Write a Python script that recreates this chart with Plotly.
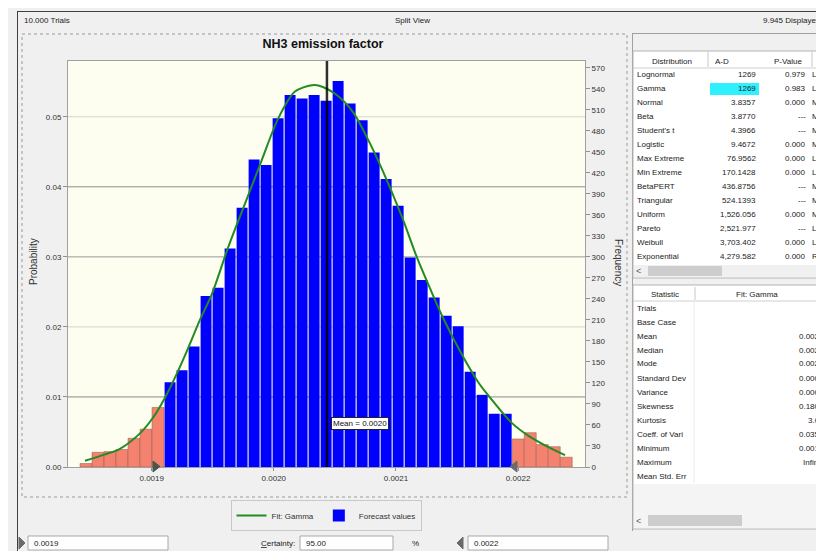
import plotly.graph_objects as go

# ---------------- data ----------------
bin_centers = [0.00184622, 0.00185605, 0.00186588, 0.00187571, 0.00188554, 0.00189537,
               0.00190520, 0.00191503, 0.00192486, 0.00193469, 0.00194452, 0.00195435,
               0.00196418, 0.00197401, 0.00198384, 0.00199367, 0.00200350, 0.00201333,
               0.00202316, 0.00203299, 0.00204282, 0.00205265, 0.00206248, 0.00207231,
               0.00208214, 0.00209197, 0.00210180, 0.00211163, 0.00212146, 0.00213129,
               0.00214112, 0.00215095, 0.00216078, 0.00217061, 0.00218044, 0.00219027,
               0.00220010, 0.00220993, 0.00221976, 0.00222959, 0.00223942]
bin_width = 0.00000983
counts = [5, 21, 22, 25, 41, 54, 85,
          121, 138, 172, 244, 256, 312, 370, 439, 431, 498,
          531, 526, 531, 523, 551, 519, 495, 449, 411, 373,
          299, 267, 242, 216, 201, 136, 103, 76, 76,
          40, 49, 32, 29, 14]

fit_x = [0.0018454, 0.0018618, 0.0018740, 0.0018904, 0.0019013, 0.0019109, 0.0019205,
         0.0019287, 0.0019395, 0.0019491, 0.0019625, 0.0019764, 0.0019901, 0.0020037,
         0.0020173, 0.0020310, 0.0020378, 0.0020515, 0.0020651, 0.0020787, 0.0020924,
         0.0021060, 0.0021170, 0.0021279, 0.0021388, 0.0021551, 0.0021674, 0.0021743,
         0.0021948, 0.0022098, 0.0022220, 0.0022384]
fit_freq = [9, 18, 26, 48, 71, 99, 133, 165, 210, 246, 313, 376, 438, 498, 536, 545,
            544, 531, 506, 462, 410, 352, 300, 255, 212, 157, 121, 105, 63, 43, 31, 17]

mean_value = 0.0020435
cert_low = 0.0019068
cert_high = 0.0021934
trials = 10000
x_ticks = [0.0019, 0.0020, 0.0021, 0.0022]
freq_ticks = list(range(0, 571, 30))
prob_ticks = [0.00, 0.01, 0.02, 0.03, 0.04, 0.05]

dist_names = ["Lognormal", "Gamma", "Normal", "Beta", "Student's t", "Logistic", "Max Extreme",
              "Min Extreme", "BetaPERT", "Triangular", "Uniform", "Pareto", "Weibull", "Exponential"]
ad_values = ["1269", "1269", "3.8357", "3.8770", "4.3966", "9.4672", "76.9562", "170.1428",
             "436.8756", "524.1393", "1,526.056", "2,521.977", "3,703.402", "4,279.582"]
p_values = ["0.979", "0.983", "0.000", "---", "---", "0.000", "0.000", "0.000",
            "---", "---", "0.000", "---", "0.000", "0.000"]
param_shown = ["Lo", "Lo", "Me", "Mi", "Mi", "Me", "Lik", "Lik", "Mi", "Mi", "Mi", "Lo", "Lo", "Ra"]
stat_names = ["Trials", "Base Case", "Mean", "Median", "Mode", "Standard Dev", "Variance",
              "Skewness", "Kurtosis", "Coeff. of Vari", "Minimum", "Maximum", "Mean Std. Err"]
stat_values = ["-", "-", "0.002", "0.002", "0.002", "0.000", "0.000", "0.180",
               "3.0", "0.035", "0.001", "Infini", "-"]

# ---------------- layout helpers (reference-window pixel coords) ----------------
OFF = 8                       # page body margin offset
W, H = 824, 551
L, R, T, B = 68, 585, 61, 467
X0, X1 = 0.00183147, 0.00225479
FREQ_TOP = 579.6
FONT = "Liberation Sans Narrow, Arial Narrow, Liberation Sans, Arial, sans-serif"
FS = 8
px_per_unit = (R - L) / (X1 - X0)


def PX(x):
    return (x - L) / (R - L)


def PY(y):
    return (B - y) / (B - T)


def ann(text, x, y, xa="left", size=FS, color="#222222", **kw):
    return dict(text=text, x=PX(x), y=PY(y), xref="paper", yref="paper", xanchor=xa,
                yanchor="middle", showarrow=False, font=dict(size=size, color=color, family=FONT), **kw)


def rect(x0, y0, x1, y1, fill=None, line=None, lw=1, layer="below", dash=None):
    d = dict(type="rect", xref="paper", yref="paper", x0=PX(x0), x1=PX(x1), y0=PY(y0), y1=PY(y1),
             layer=layer, fillcolor=fill if fill else "rgba(0,0,0,0)",
             line=dict(color=line if line else "rgba(0,0,0,0)", width=lw if line else 0))
    if dash:
        d["line"]["dash"] = dash
    return d


def hline(x0, x1, y, color, lw=1, layer="below"):
    return dict(type="line", xref="paper", yref="paper", x0=PX(x0), x1=PX(x1), y0=PY(y), y1=PY(y),
                layer=layer, line=dict(color=color, width=lw))


def vline(x, y0, y1, color, lw=1, layer="below"):
    return dict(type="line", xref="paper", yref="paper", x0=PX(x), x1=PX(x), y0=PY(y0), y1=PY(y1),
                layer=layer, line=dict(color=color, width=lw))


# ---------------- traces ----------------
blue_x, blue_y, red_x, red_y = [], [], [], []
for c, n in zip(bin_centers, counts):
    if cert_low <= c <= cert_high:
        blue_x.append(c)
        blue_y.append(n)
    else:
        red_x.append(c)
        red_y.append(n)

fig = go.Figure()
fig.add_trace(go.Bar(x=red_x, y=red_y, width=bin_width, marker=dict(color="#f4826e",
                     line=dict(color="rgba(150,95,85,0.75)", width=0.7)),
                     showlegend=False, hoverinfo="skip", yaxis="y"))
fig.add_trace(go.Bar(x=blue_x, y=blue_y, width=bin_width * 0.91, name="Forecast values",
                     marker=dict(color="#0000ff", line=dict(width=0)), legendrank=2,
                     hoverinfo="skip", yaxis="y"))
fig.add_trace(go.Scatter(x=fit_x, y=fit_freq, mode="lines", name="Fit: Gamma",
                         line=dict(color="#228b22", width=2, shape="spline", smoothing=0.8),
                         legendrank=1, hoverinfo="skip", yaxis="y"))
fig.add_trace(go.Scatter(x=[mean_value], y=[0], mode="markers", marker=dict(opacity=0),
                         showlegend=False, hoverinfo="skip", yaxis="y2"))

shapes = []
# window chrome
shapes.append(vline(17.5, 11, 551, "#404040"))
shapes.append(hline(17, 824, 11.5, "#404040"))
# chart panel dotted frame
shapes.append(rect(22, 34, 627, 497, line="#9a9a9a", dash="dot"))

# gridlines (probability axis)
grid_colors = {0.01: "#8c8c8c", 0.02: "#d4d4cc", 0.03: "#9a9a9a", 0.04: "#8c8c8c", 0.05: "#d4d4cc"}
for v, col in grid_colors.items():
    shapes.append(dict(type="line", xref="x domain", yref="y2", x0=0, x1=1, y0=v, y1=v,
                       layer="below", line=dict(color=col, width=1)))

# mean line
shapes.append(dict(type="line", xref="x", yref="paper", x0=mean_value, x1=mean_value, y0=0, y1=1,
                   layer="above", line=dict(color="rgba(0,0,0,0.82)", width=2.5)))

# certainty grabbers on x-axis
tw = 7 / px_per_unit
shapes.append(dict(type="path", xref="x", yref="paper", layer="above",
                   path=f"M {cert_low - tw},{PY(461)} L {cert_low},{PY(466.5)} L {cert_low - tw},{PY(472)} Z",
                   fillcolor="#4d554d", line=dict(color="#4d554d", width=1)))
shapes.append(dict(type="path", xref="x", yref="paper", layer="above",
                   path=f"M {cert_high + tw},{PY(461)} L {cert_high},{PY(466.5)} L {cert_high + tw},{PY(472)} Z",
                   fillcolor="#6a6a6a", line=dict(color="#6a6a6a", width=1)))

# right panel
shapes.append(vline(632.5, 33, 531, "#a0a0a0"))
shapes.append(hline(632, 824, 33.5, "#a0a0a0"))
shapes.append(rect(633, 51, 830, 278, fill="#ffffff", line="#b4b4b4"))
shapes.append(hline(633, 824, 68, "#d0d0d0"))
shapes.append(vline(708, 52, 67, "#c8c8c8"))
shapes.append(vline(812, 52, 67, "#c8c8c8"))
shapes.append(rect(710, 83, 759, 95, fill="#2ef0ff"))
shapes.append(rect(634, 265, 824, 277, fill="#f0f0f0"))
shapes.append(rect(648, 266, 722, 276, fill="#cdcdcd"))

shapes.append(rect(633, 285, 830, 529, fill="#ffffff", line="#b4b4b4"))
shapes.append(hline(633, 824, 301, "#d0d0d0"))
shapes.append(vline(695, 287, 300, "#c8c8c8"))
shapes.append(vline(694, 302, 483, "#ececec"))
shapes.append(rect(634, 484, 824, 528, fill="#f4f4f4"))
shapes.append(rect(648, 515, 742, 526, fill="#cdcdcd"))

# bottom controls
shapes.append(dict(type="path", xref="paper", yref="paper", layer="above",
                   path=f"M {PX(19)},{PY(537)} L {PX(25)},{PY(543)} L {PX(19)},{PY(549)} Z",
                   fillcolor="#6a6a6a", line=dict(color="#6a6a6a", width=1)))
shapes.append(dict(type="path", xref="paper", yref="paper", layer="above",
                   path=f"M {PX(463)},{PY(537)} L {PX(457)},{PY(543)} L {PX(463)},{PY(549)} Z",
                   fillcolor="#6a6a6a", line=dict(color="#6a6a6a", width=1)))
shapes.append(rect(28, 536, 168, 550, fill="#ffffff", line="#a8a8a8"))
shapes.append(rect(300, 536, 393, 550, fill="#ffffff", line="#a8a8a8"))
shapes.append(rect(468, 536, 608, 550, fill="#ffffff", line="#a8a8a8"))

annotations = []
annotations.append(ann("10.000 Trials", 22, 21))
annotations.append(ann("Split View", 412, 21, xa="center"))
annotations.append(ann("9.945 Displayed", 822, 21, xa="right"))
annotations.append(ann("Probability", 33, 262, xa="center", size=10, color="#333333", textangle=-90))
annotations.append(ann("Frequency", 619, 262, xa="center", size=10, color="#333333", textangle=90))
annotations.append(dict(text="Mean = 0.0020", x=mean_value, y=PY(423), xref="x", yref="paper",
                        xanchor="left", yanchor="middle", xshift=4, showarrow=False,
                        font=dict(size=FS, color="#111111", family=FONT), bgcolor="#ffffff",
                        bordercolor="#222222", borderwidth=1, borderpad=1))

# top table
annotations.append(ann("Distribution", 672, 61, xa="center"))
annotations.append(ann("A-D", 722, 61, xa="center"))
annotations.append(ann("P-Value", 788, 61, xa="center"))
for i, (nm, ad, pv, pn) in enumerate(zip(dist_names, ad_values, p_values, param_shown)):
    y = 75 + 13.95 * i
    annotations.append(ann(nm, 635, y))
    annotations.append(ann(ad, 758, y, xa="right"))
    annotations.append(ann(pv, 808, y, xa="right"))
    annotations.append(ann(pn, 810, y))
annotations.append(ann("&lt;", 638, 271, xa="center", size=9, color="#606060"))
annotations.append(ann("&gt;", 819, 271, xa="center", size=9, color="#606060"))

# bottom table
annotations.append(ann("Statistic", 665, 294, xa="center"))
annotations.append(ann("Fit: Gamma", 757, 294, xa="center"))
for i, (nm, sv) in enumerate(zip(stat_names, stat_values)):
    y = 308 + 14 * i
    annotations.append(ann(nm, 635, y))
    annotations.append(ann(sv, 822, y, xa="right"))
annotations.append(ann("&lt;", 638, 521, xa="center", size=9, color="#606060"))
annotations.append(ann("&gt;", 819, 521, xa="center", size=9, color="#606060"))

# bottom controls
annotations.append(ann(f"{x_ticks[0]:.4f}", 32, 543))
annotations.append(ann("<u>C</u>ertainty:", 297, 543, xa="right"))
annotations.append(ann("95.00", 304, 543))
annotations.append(ann("%", 415, 543, xa="center"))
annotations.append(ann(f"{x_ticks[-1]:.4f}", 472, 543))

fig.update_layout(
    width=W - OFF, height=H - OFF,
    margin=dict(l=L - OFF, r=W - R, t=T - OFF, b=H - B, pad=0),
    paper_bgcolor="#f0f0f0",
    plot_bgcolor="#fdfdf0",
    barmode="overlay",
    font=dict(family=FONT, size=FS, color="#333333"),
    title=dict(text="<b>NH3 emission factor</b>", x=(323 - OFF) / (W - OFF), xref="container",
               xanchor="center", y=1 - (44 - OFF) / (H - OFF), yref="container", yanchor="middle",
               font=dict(family=FONT, size=12.5, color="#111111")),
    xaxis=dict(range=[X0, X1], tickvals=x_ticks, ticktext=[f"{v:.4f}" for v in x_ticks],
               showgrid=False, zeroline=False, showline=True, linecolor="#a0a0a0", mirror=True,
               ticks="outside", ticklen=3, tickcolor="#909090",
               tickfont=dict(size=FS, color="#333333", family=FONT)),
    yaxis=dict(range=[0, FREQ_TOP], side="right", tickvals=freq_ticks, showgrid=False,
               zeroline=False, showline=True, linecolor="#a0a0a0", ticks="outside", ticklen=4,
               tickcolor="#909090", tickfont=dict(size=FS, color="#333333", family=FONT)),
    yaxis2=dict(range=[0, FREQ_TOP / trials], overlaying="y", side="left", tickvals=prob_ticks,
                tickformat=".2f", showgrid=False, zeroline=False, showline=True, linecolor="#a0a0a0",
                ticks="outside", ticklen=4, tickcolor="#909090",
                tickfont=dict(size=FS, color="#333333", family=FONT)),
    legend=dict(orientation="h", x=PX(326), y=PY(500), xanchor="center", yanchor="top",
                bgcolor="#f0f0f0", bordercolor="#c8c8c8", borderwidth=1,
                font=dict(size=FS, color="#333333", family=FONT), itemwidth=30,
                traceorder="normal"),
    shapes=shapes,
    annotations=annotations,
    showlegend=True,
)

fig.write_html("out.html")
